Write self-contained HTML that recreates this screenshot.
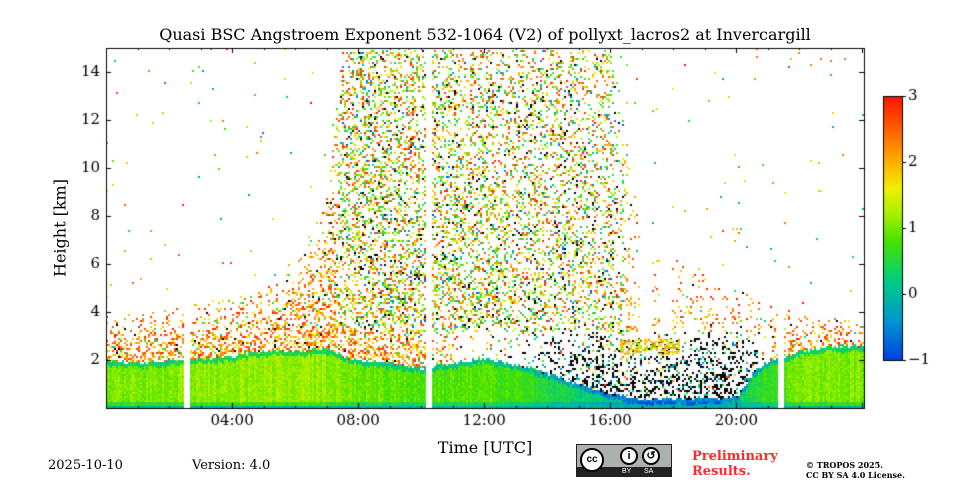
<!DOCTYPE html>
<html><head><meta charset="utf-8"><style>
body{margin:0;background:#fff;width:960px;height:480px;overflow:hidden;position:relative;font-family:"DejaVu Serif","Liberation Serif",serif;}
.t{position:absolute;white-space:nowrap;color:#000}
</style></head><body>
<div class="t" style="left:0;width:970px;text-align:center;top:25px;font-size:16px">Quasi BSC Angstroem Exponent 532-1064 (V2) of pollyxt_lacros2 at Invercargill</div>
<canvas id="c" width="960" height="480" style="position:absolute;left:0;top:0"></canvas>
<div class="t" style="left:60px;top:228px;font-size:16px;transform:translate(-50%,-50%) rotate(-90deg)">Height [km]</div>
<div class="t" style="left:485px;top:438px;font-size:16px;transform:translateX(-50%)">Time [UTC]</div>
<div class="t" style="left:48px;top:458px;font-size:13px">2025-10-10</div>
<div class="t" style="left:192px;top:458px;font-size:13px">Version: 4.0</div>
<div style="position:absolute;left:576px;top:444px;width:96px;height:33px;background:#aab2ab;border:1px solid #222;box-sizing:border-box">
<div style="position:absolute;left:0;bottom:0;width:94px;height:9px;background:#222"></div>
<div style="position:absolute;left:3px;top:3px;width:24px;height:24px;border-radius:50%;background:#fff;border:2px solid #000;box-sizing:border-box;font:bold 10px 'Liberation Sans',sans-serif;text-align:center;line-height:20px">cc</div>
<div style="position:absolute;left:43px;top:2px;width:18px;height:18px;border-radius:50%;background:#fff;border:2px solid #000;box-sizing:border-box;font:bold 11px 'Liberation Sans',sans-serif;text-align:center;line-height:14px">i</div>
<div style="position:absolute;left:65px;top:2px;width:18px;height:18px;border-radius:50%;background:#fff;border:2px solid #000;box-sizing:border-box;font:bold 11px 'Liberation Sans',sans-serif;text-align:center;line-height:14px">↺</div>
<div style="position:absolute;left:45px;top:23px;font:7px 'Liberation Sans',sans-serif;color:#fff">BY</div>
<div style="position:absolute;left:67px;top:23px;font:7px 'Liberation Sans',sans-serif;color:#fff">SA</div>
</div>
<div class="t" style="left:692px;top:449px;font-size:13px;font-weight:bold;color:#ff2a2a;line-height:15px">Preliminary<br>Results.</div>
<div class="t" style="left:806px;top:460px;font-size:8px;font-weight:bold;line-height:10px">© TROPOS 2025.<br>CC BY SA 4.0 License.</div>
<script>
// ---- data (per hour 0..24) ----
const hours      = [0,1,2,3,4,5,6,7,7.5,8,9,10,11,12,13,14,15,16,17,18,19,20,20.5,21,22,23,24];
const layerTop   = [2.0,1.9,2.0,2.1,2.2,2.4,2.4,2.5,2.2,2.0,1.9,1.7,1.9,2.1,1.8,1.5,1.0,0.6,0.4,0.4,0.4,0.5,1.5,2.0,2.4,2.6,2.6];
const speckleTop = [4.0,4.0,4.2,4.5,4.6,5.0,6.0,9.0,15,15,15,15,15,15,15,15,15,15,8,6.5,5.5,5.0,4.8,4.5,4.0,3.8,3.8];
const speckleDen = [0.3,0.3,0.3,0.32,0.32,0.32,0.32,0.35,0.38,0.4,0.4,0.38,0.34,0.33,0.32,0.3,0.3,0.26,0.12,0.22,0.22,0.22,0.2,0.2,0.25,0.25,0.25];
const layerExp   = [1.05,1.05,1.05,1.1,1.15,1.15,1.15,1.1,1.0,0.95,0.9,0.85,0.85,0.9,0.7,0.5,0.3,0.2,0.1,0.1,0.2,0.3,0.5,0.7,1.0,1.05,1.05];
const blackDen   = [0,0,0,0,0,0,0,0,0,0,0,0,0,0.05,0.18,0.3,0.33,0.3,0.3,0.3,0.33,0.36,0.3,0,0,0,0];
const gaps       = [[2.45,2.62],[10.1,10.3],[21.3,21.45]];
const upperGaps  = [[16.9,17.3],[17.55,17.9]];
const cbTicks    = [3,2,1,0,-1];
const xTicks     = [4,8,12,16,20];
const xTickLabels= ["04:00","08:00","12:00","16:00","20:00"];
const yTicks     = [2,4,6,8,10,12,14];

const X0=106,X1=864,Y0=48,Y1=408, TMAX=24.05, HMAX=15;
const xs=t=>X0+t/TMAX*(X1-X0), ys=h=>Y1-h/HMAX*(Y1-Y0);
const CB={x:883,w:19,top:96,bot:360,vmin:-1,vmax:3};
const cbY=v=>CB.bot-(v-CB.vmin)/(CB.vmax-CB.vmin)*(CB.bot-CB.top);
const stops=[[0,[0,64,224]],[0.15,[0,150,210]],[0.3,[0,205,130]],[0.45,[70,225,0]],[0.55,[160,240,0]],[0.65,[240,240,0]],[0.75,[255,176,0]],[0.9,[255,80,0]],[1,[255,20,0]]];
function cmap(v){let t=Math.max(0,Math.min(1,(v+1)/4));for(let i=1;i<stops.length;i++){if(t<=stops[i][0]){const a=stops[i-1],b=stops[i],f=(t-a[0])/(b[0]-a[0]);return `rgb(${a[1].map((c,k)=>Math.round(c+(b[1][k]-c)*f)).join(',')})`;}}return 'rgb(255,20,0)';}
function interp(arr,t){for(let i=1;i<hours.length;i++){if(t<=hours[i]){const f=(t-hours[i-1])/(hours[i]-hours[i-1]);return arr[i-1]+(arr[i]-arr[i-1])*f;}}return arr[arr.length-1];}
let seed=12345;function rnd(){seed|=0;seed=seed+0x6D2B79F5|0;let t=Math.imul(seed^seed>>>15,1|seed);t=t+Math.imul(t^t>>>7,61|t)^t;return((t^t>>>14)>>>0)/4294967296;}
const inG=(g,t)=>g.some(r=>t>=r[0]&&t<=r[1]);

const c=document.getElementById('c'),g=c.getContext('2d');
const CW=2,CH=2;
for(let px=X0;px<X1;px+=CW){
  const t=(px-X0)/(X1-X0)*TMAX;
  if(inG(gaps,t))continue;
  const lt=interp(layerTop,t)+(rnd()-0.5)*0.15,st=interp(speckleTop,t),sd=interp(speckleDen,t),le=interp(layerExp,t)+(rnd()-0.5)*0.25,bd=interp(blackDen,t);
  for(let py=Y1-CH;py>=Y0;py-=CH){
    const h=(Y1-py)/(Y1-Y0)*HMAX;
    let col=null;
    const up=h>3&&inG(upperGaps,t);
    if(h<0.1){col=cmap(-0.2+rnd()*0.3);}
    else if(h<lt){const v=le+(rnd()-0.5)*0.3-(h>lt-0.2?0.7:0)-(h<0.3?0.4:0);col=cmap(v);}
    else if(bd>0&&h<3.2&&h<st){ if(rnd()<bd*(1.3-h/3.2)) col=rnd()<0.8?'#000':cmap(-0.7+rnd()*1.2); else if(rnd()<0.05) col=cmap(rnd()*3);}
    else if(h<st&&!up){const rel=(h-lt)/Math.max(0.5,st-lt);const f=st>12?(1-0.3*rel):(1.4-1.2*rel);
      if(rnd()<sd*f){const r=rnd();
        if(st<12||h<lt+1.2) col=r<0.04?'#000':cmap(r<0.12?rnd()*1.2:1.5+rnd()*1.5);
        else col=r<0.08?'#000':cmap(r<0.18?-1+rnd()*1.3:0.3+rnd()*2.7);}}
    else if(!up&&rnd()<0.005){col=cmap(rnd()*3.5-0.5);}
    if(col){g.fillStyle=col;g.fillRect(px,py,CW,CH);}
  }
}
// elevated cloud around 17h
for(let px=Math.round(xs(16.3));px<xs(18.2);px+=2){for(let h=2.3;h<2.9;h+=2*HMAX/(Y1-Y0)){if(rnd()<0.5){g.fillStyle=cmap(1.0+rnd()*1.4);g.fillRect(px,ys(h),2,2);}}}
// axes
g.fillStyle='#000';g.strokeStyle='#000';g.lineWidth=1;g.strokeRect(X0+0.5,Y0+0.5,X1-X0,Y1-Y0);
g.font='15px "DejaVu Serif",serif';g.textBaseline='middle';g.textAlign='right';
yTicks.forEach(v=>{const y=Math.round(ys(v))+0.5;g.beginPath();g.moveTo(X0,y);g.lineTo(X0+5,y);g.moveTo(X1,y);g.lineTo(X1-5,y);g.stroke();g.fillText(v,X0-6,y);});
g.textAlign='center';g.textBaseline='top';
for(let hh=0;hh<=24;hh++){const x=Math.round(xs(hh))+0.5;g.beginPath();g.moveTo(x,Y1);g.lineTo(x,Y1-(hh%4?2:5));g.moveTo(x,Y0);g.lineTo(x,Y0+(hh%4?2:5));g.stroke();}
xTicks.forEach((v,i)=>{g.fillText(xTickLabels[i],xs(v),Y1+6);});
// colorbar
for(let y=CB.top;y<CB.bot;y++){g.fillStyle=cmap(CB.vmax-(y-CB.top)/(CB.bot-CB.top)*(CB.vmax-CB.vmin));g.fillRect(CB.x,y,CB.w,1);}
g.strokeRect(CB.x+0.5,CB.top+0.5,CB.w,CB.bot-CB.top);
g.fillStyle='#000';g.textAlign='left';g.textBaseline='middle';
cbTicks.forEach(v=>{const y=Math.round(cbY(v))+0.5;g.beginPath();g.moveTo(CB.x+CB.w,y);g.lineTo(CB.x+CB.w+4,y);g.stroke();g.fillText(v<0?'−'+(-v):v,CB.x+CB.w+6,y);});
</script>
</body></html>
